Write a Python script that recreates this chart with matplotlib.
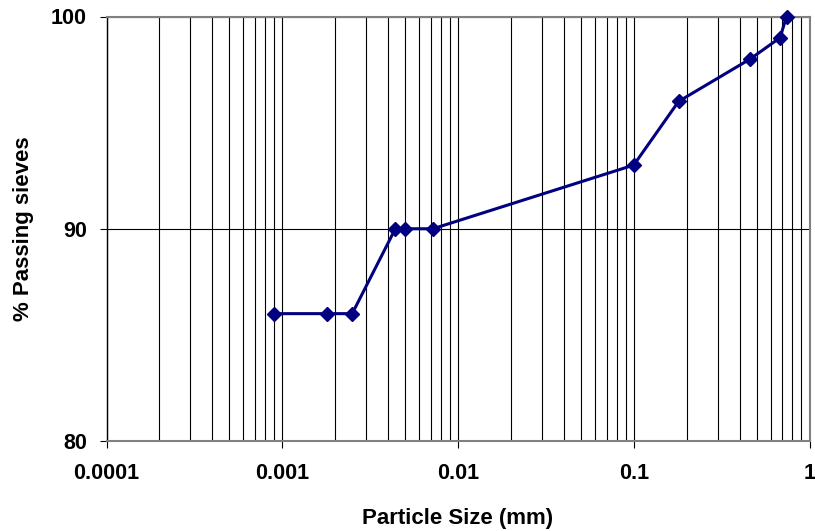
import matplotlib
matplotlib.use("Agg")
import matplotlib.pyplot as plt
from matplotlib.ticker import LogLocator, FixedLocator, NullFormatter

# particle size distribution
size_mm = [0.0009, 0.0018, 0.0025, 0.0044, 0.005, 0.0072, 0.1, 0.18, 0.46, 0.68, 0.74]
passing = [86, 86, 86, 90, 90, 90, 93, 96, 98, 99, 100]

x_ticks = [0.0001, 0.001, 0.01, 0.1, 1]
x_ticklabels = ["0.0001", "0.001", "0.01", "0.1", "1"]
y_ticks = [80, 90, 100]

plt.rcParams["font.family"] = ["Liberation Sans", "DejaVu Sans"]
plt.rcParams["font.weight"] = "bold"

fig = plt.figure(figsize=(8.15, 5.31), dpi=100)
ax = fig.add_axes([106.5 / 815, 1 - 441 / 531, (809.5 - 106.5) / 815, (441 - 16.5) / 531])

ax.plot(size_mm, passing, color="#000080", lw=2.2, marker="D", ms=7,
        mfc="#000080", mec="#000080", zorder=3, clip_on=False)

ax.set_xscale("log")
ax.set_xlim(0.0001, 1)
ax.set_ylim(80, 100)

ax.xaxis.set_major_locator(FixedLocator(x_ticks))
ax.set_xticklabels(x_ticklabels)
ax.xaxis.set_minor_locator(LogLocator(base=10, subs=range(2, 10), numticks=20))
ax.xaxis.set_minor_formatter(NullFormatter())
ax.set_yticks(y_ticks)

ax.grid(which="both", axis="x", color="black", lw=0.8)
ax.grid(which="major", axis="y", color="black", lw=0.8)

ax.tick_params(axis="both", which="major", direction="out", length=5, width=0.8,
               labelsize=15.5)
ax.tick_params(axis="x", which="major", pad=11)
ax.tick_params(axis="y", which="major", pad=9)
ax.tick_params(axis="x", which="minor", length=0)

for side in ["top", "bottom", "right"]:
    ax.spines[side].set_color("#808080")
    ax.spines[side].set_linewidth(1.5)
ax.spines["left"].set_color("black")
ax.spines["left"].set_linewidth(1)

ax.set_xlabel("Particle Size (mm)", fontsize=16, fontweight="bold", labelpad=17)
ax.set_ylabel("% Passing sieves", fontsize=16, fontweight="bold", labelpad=12)

fig.savefig("out.png", dpi=100)
